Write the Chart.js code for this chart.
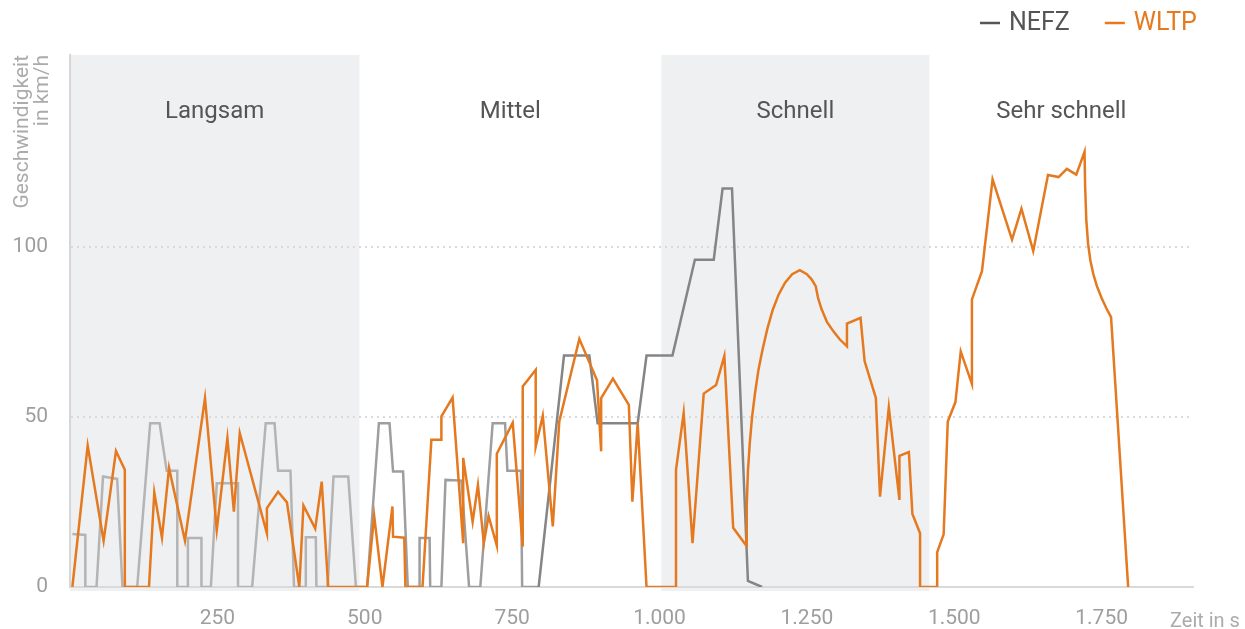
<!DOCTYPE html>
<html>
<head>
<meta charset="utf-8">
<script src="https://cdn.jsdelivr.net/npm/chart.js@4"></script>
<style>
  html, body { margin: 0; padding: 0; background: #fff; }
  canvas { display: block; }
</style>
</head>
<body>
<canvas id="cycleChart" width="1245" height="629"></canvas>
<script>
// phases of the cycle (seconds)
const phaseNames = ['Langsam', 'Mittel', 'Schnell', 'Sehr schnell'];
const phaseStart = [0, 491, 1003, 1458];
const phaseEnd = [491, 1003, 1458, 1905];
const phaseShaded = [true, false, true, false];

// NEFZ speed trace (time in s, speed in km/h)
const nefzTime = [4, 26, 26, 45, 56, 80, 89, 114, 136, 152, 164, 182, 182, 200, 200, 223,
  223, 239, 249, 285, 285, 309, 332, 347, 353, 374, 380, 400, 400, 417, 418, 437,
  447, 472, 485, 504, 524, 542, 548, 565, 573, 593, 593, 610, 611, 630, 637, 664,
  677, 696, 717, 738, 742, 765, 767, 795, 838, 881, 895, 963, 978, 1022, 1060, 1092,
  1107, 1123, 1150, 1174];
const nefzSpeed = [15.6, 15.3, 0, 0, 32.5, 31.8, 0, 0, 48.2, 48.2, 34.2, 34.2, 0, 0, 14.4, 14.4,
  0, 0, 30.5, 30.5, 0, 0, 48.2, 48.2, 34.2, 34.2, 0, 0, 14.6, 14.6, 0, 0,
  32.5, 32.5, 0, 0, 48.2, 48.2, 34, 34, 0, 0, 14.4, 14.4, 0, 0, 31.5, 31.3,
  0, 0, 48.2, 48.2, 34.2, 34.2, 0, 0, 68.1, 68.1, 48.2, 48.2, 68.1, 68.1, 96.3, 96.3,
  117.2, 117.2, 1.8, 0];

// WLTP speed trace
const wltpTime = [4, 30, 57, 78, 93, 93, 134, 143, 156, 168,
  195, 229, 249, 267, 278, 288, 334, 334, 353, 368,
  389, 396, 416, 427, 438, 504, 516, 530, 547, 548,
  567, 569, 598, 613, 630, 630, 649, 667, 667, 683,
  692, 702, 710, 724, 724, 751, 768, 768, 790, 790,
  802, 819, 830, 864, 894, 901, 901, 921, 948, 954,
  963, 978, 1028, 1028, 1041, 1056, 1075, 1096, 1110, 1125,
  1147, 1148, 1150, 1153, 1157, 1162, 1168, 1175, 1183, 1192,
  1202, 1213, 1225, 1238, 1250, 1258, 1265, 1269, 1275, 1284,
  1295, 1306, 1318, 1318, 1341,
  1348, 1367, 1374, 1389, 1407, 1407, 1423, 1429, 1442, 1442,
  1471, 1471, 1482, 1489, 1502, 1511, 1530, 1530, 1547, 1565,
  1598, 1614, 1634, 1659, 1677, 1691, 1707, 1721, 1722, 1724,
  1727, 1731, 1736, 1742, 1750, 1758, 1766, 1795];
const wltpSpeed = [0, 41.6, 13.6, 40, 34.5, 0, 0, 27.8, 14.5, 35,
  13.6, 55.6, 16.8, 43.8, 22.2, 45.3, 15.8, 23.2, 28, 24.9,
  0, 24, 17.2, 31, 0, 0, 20.9, 0, 23.7, 14.8,
  14.5, 0, 0, 43.3, 43.3, 50.2, 55.7, 12.9, 38, 19.2,
  30, 12.9, 20.9, 12.2, 39.2, 48.3, 11.9, 59, 63.9, 41.3,
  50.4, 17.8, 48.7, 73, 60.8, 39.9, 55.6, 61.3, 53.6, 25.1,
  48.2, 0, 0, 34.5, 51.2, 12.9, 56.9, 59.4, 68, 17.4,
  12.2, 24, 34, 42, 50, 57, 64, 70, 76, 81.5,
  86, 89.5, 92, 93.2, 92, 90.5, 88.5, 85, 81.7, 78,
  75.2, 72.8, 70.8, 77.5, 79.2,
  66.4, 55.6, 26.6, 52.9, 25.6, 38.6, 39.7, 21.5, 15.8, 0,
  0, 10.2, 15.5, 48.7, 54.4, 69.3, 59.7, 84.6, 92.9, 119.9,
  102.2, 111.3, 98.8, 121.2, 120.6, 123, 121.3, 128, 118, 108,
  101, 96, 92, 88.5, 85, 82, 79.4, 0];

const xTicks = [250, 500, 750, 1000, 1250, 1500, 1750];
const yTicks = [0, 50, 100];

const ORANGE = '#e5791f';
const FONT = 'Roboto';

function toPoints(xs, ys) {
  return xs.map(function (x, i) { return { x: x, y: ys[i] }; });
}

function fmtDe(v) {
  if (v < 1000) return String(v);
  return Math.floor(v / 1000) + '.' + String(v % 1000).padStart(3, '0');
}

// shaded phases, phase names, legend, axis titles
const decorPlugin = {
  id: 'decor',
  beforeDraw: function (chart) {
    const ctx = chart.ctx, area = chart.chartArea, x = chart.scales.x;
    ctx.save();
    ctx.fillStyle = '#eff0f2';
    phaseStart.forEach(function (s, i) {
      if (!phaseShaded[i]) return;
      const x0 = x.getPixelForValue(s), x1 = x.getPixelForValue(phaseEnd[i]);
      ctx.fillRect(x0, area.top, x1 - x0, area.bottom - area.top + 4);
    });
    ctx.fillStyle = '#555';
    ctx.font = '24px ' + FONT;
    ctx.textAlign = 'center';
    ctx.textBaseline = 'middle';
    phaseNames.forEach(function (n, i) {
      ctx.fillText(n, x.getPixelForValue((phaseStart[i] + phaseEnd[i]) / 2), area.top + 57);
    });
    ctx.restore();
  },
  afterDraw: function (chart) {
    const ctx = chart.ctx, area = chart.chartArea;
    ctx.save();
    // y title, two rotated lines
    ctx.fillStyle = '#ababab';
    ctx.font = '21px ' + FONT;
    ctx.textAlign = 'right';
    ctx.textBaseline = 'alphabetic';
    [['Geschwindigkeit', 28], ['in km/h', 48]].forEach(function (l) {
      ctx.save();
      ctx.translate(l[1], area.top);
      ctx.rotate(-Math.PI / 2);
      ctx.fillText(l[0], 0, 0);
      ctx.restore();
    });
    // x title
    ctx.font = '20px ' + FONT;
    ctx.textAlign = 'left';
    ctx.fillText('Zeit in s', 1170, 627);
    // legend
    ctx.font = '25px ' + FONT;
    ctx.textBaseline = 'middle';
    let lx = 980;
    const ly = 23;
    chart.data.datasets.forEach(function (ds) {
      ctx.strokeStyle = ds.legendColor;
      ctx.lineWidth = 2.5;
      ctx.beginPath();
      ctx.moveTo(lx, ly);
      ctx.lineTo(lx + 20, ly);
      ctx.stroke();
      lx += 29;
      ctx.fillStyle = ds.legendColor;
      ctx.fillText(ds.label, lx, ly + 1);
      lx += ctx.measureText(ds.label).width + 35;
    });
    ctx.restore();
  }
};

new Chart(document.getElementById('cycleChart'), {
  type: 'line',
  data: {
    datasets: [{
      label: 'NEFZ',
      data: toPoints(nefzTime, nefzSpeed),
      legendColor: '#555',
      borderColor: '#8a8a8a',
      borderWidth: 2.5,
      pointRadius: 0,
      order: 2,
      segment: {
        borderColor: function (c) {
          const px = c.p0.parsed.x;
          if (px < 491) return '#b4b4b4';
          if (px < 790) return '#9e9e9e';
          return '#858585';
        }
      }
    }, {
      label: 'WLTP',
      data: toPoints(wltpTime, wltpSpeed),
      legendColor: ORANGE,
      borderColor: ORANGE,
      borderWidth: 2.5,
      pointRadius: 0,
      order: 1
    }]
  },
  options: {
    responsive: false,
    devicePixelRatio: 1,
    animation: false,
    layout: { padding: { top: 55, right: 52, left: 0, bottom: 0 } },
    plugins: {
      legend: { display: false },
      tooltip: { enabled: false }
    },
    scales: {
      x: {
        type: 'linear',
        min: 0,
        max: 1905,
        afterFit: function (s) { s.height = 42; },
        afterBuildTicks: function (s) {
          s.ticks = xTicks.map(function (v) { return { value: v }; });
        },
        grid: { color: 'transparent', drawTicks: false },
        border: { display: true, color: '#dadada', width: 2 },
        ticks: {
          padding: 19,
          maxRotation: 0,
          autoSkip: false,
          color: '#9e9e9e',
          font: { family: FONT, size: 21 },
          callback: function (v) { return fmtDe(v); }
        }
      },
      y: {
        min: 0,
        max: 156.5,
        afterFit: function (s) { s.width = 70; },
        afterBuildTicks: function (s) {
          s.ticks = yTicks.map(function (v) { return { value: v }; });
        },
        grid: {
          drawTicks: false,
          lineWidth: 2,
          color: function (c) { return c.tick && c.tick.value === 0 ? 'transparent' : '#dadada'; }
        },
        border: { display: true, color: '#d6d6d6', width: 2, dash: [2, 4] },
        ticks: {
          padding: 22,
          color: '#9e9e9e',
          font: { family: FONT, size: 21 },
          callback: function (v) { return String(v); }
        }
      }
    }
  },
  plugins: [decorPlugin]
});
</script>
</body>
</html>
